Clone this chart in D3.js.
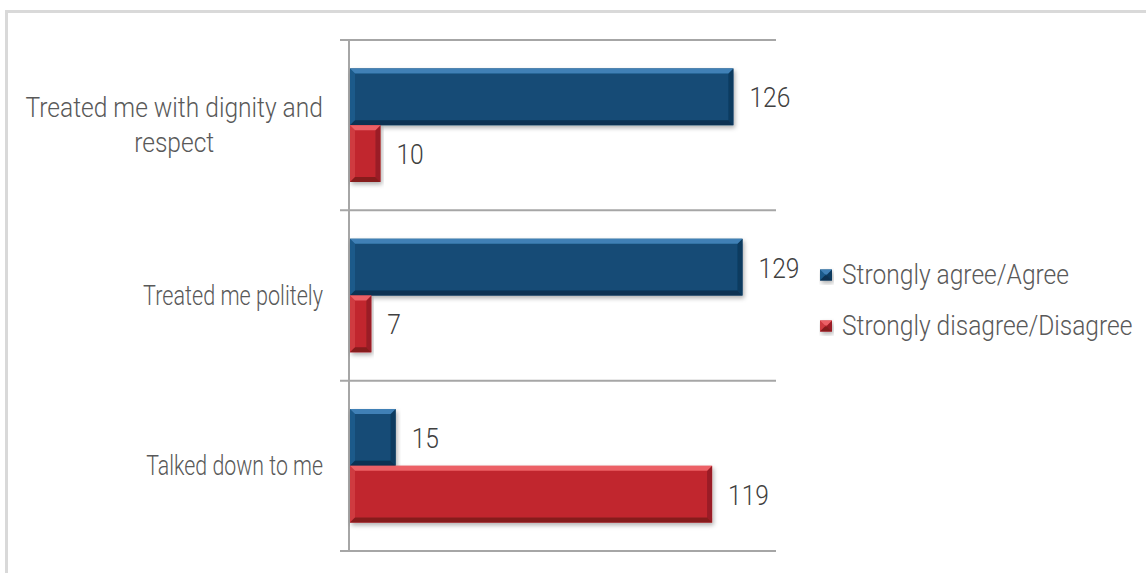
<!DOCTYPE html>
<html>
<head>
<meta charset="utf-8">
<script src="https://cdn.jsdelivr.net/npm/d3@7"></script>
<style>
  html, body { margin: 0; padding: 0; background: #fff; }
  svg { display: block; }
  text { font-family: Roboto, "Liberation Sans", sans-serif; font-weight: 300; fill: #595959; }
</style>
</head>
<body>
<svg id="chart" width="1146" height="573"></svg>
<script>
// Survey responses per statement
const categories = ["Treated me with dignity and respect", "Treated me politely", "Talked down to me"];
const categoryLines = [["Treated me with dignity and", "respect"], ["Treated me politely"], ["Talked down to me"]];
const seriesNames = ["Strongly agree/Agree", "Strongly disagree/Disagree"];
const agreeValues = [126, 129, 15];
const disagreeValues = [10, 7, 119];
const axisMax = 140;

const seriesValues = [agreeValues, disagreeValues];
const palette = [
  { face: "#134b76", light: "#3f80b6", side: "#1d5a8a", dark: "#0b3252", rdark: "#0e3a5e" },
  { face: "#c1272f", light: "#ec6166", side: "#cf3a41", dark: "#861a1f", rdark: "#9a1f25" }
];

const svg = d3.select("#chart");
const FS = 27, SX = 0.91;
// horizontal condensing of each category label
const labelScaleX = [0.91, 0.80, 0.79];

// Outer frame
svg.append("path")
  .attr("d", "M6.5,1146 L6.5,11.5 L1146,11.5")
  .attr("fill", "none").attr("stroke", "#d9d9d9").attr("stroke-width", 3);

// Drop shadow for the bars
const defs = svg.append("defs");
const f = defs.append("filter").attr("id", "shadow").attr("x", "-5%").attr("y", "-20%").attr("width", "115%").attr("height", "160%");
f.append("feDropShadow").attr("dx", 1.5).attr("dy", 2.5).attr("stdDeviation", 2).attr("flood-color", "#000").attr("flood-opacity", 0.3);

const x = d3.scaleLinear().domain([0, axisMax]).range([350, 776]);
const y = d3.scaleBand().domain(categories).range([40, 551]).paddingInner(0).paddingOuter(0);
const ySub = d3.scaleBand().domain(seriesNames).range([0, y.bandwidth()]).paddingInner(0).paddingOuter(0.5);

// Category separators and axis line
const bounds = categories.map(c => y(c)).concat([y.range()[1]]);
const grid = svg.append("g");
grid.selectAll("line.sep").data(bounds).join("line")
  .attr("class", "sep")
  .attr("x1", 340).attr("x2", x(axisMax))
  .attr("y1", d => d).attr("y2", d => d)
  .attr("stroke", "#a6a6a6").attr("stroke-width", 2);
grid.append("line")
  .attr("x1", x(0) - 1).attr("x2", x(0) - 1)
  .attr("y1", y.range()[0]).attr("y2", y.range()[1] + 1)
  .attr("stroke", "#a6a6a6").attr("stroke-width", 2);

function bevelBar(g, x0, y0, w, h, c) {
  const b = Math.min(5, w / 2, h / 2);
  const gg = g.append("g").attr("filter", "url(#shadow)");
  gg.append("rect").attr("x", x0).attr("y", y0).attr("width", w).attr("height", h).attr("fill", c.face);
  const poly = (pts, fill) => gg.append("polygon").attr("points", pts.map(p => p.join(",")).join(" ")).attr("fill", fill);
  poly([[x0, y0], [x0 + b, y0 + b], [x0 + b, y0 + h - b], [x0, y0 + h]], c.side);
  poly([[x0 + w, y0], [x0 + w - b, y0 + b], [x0 + w - b, y0 + h - b], [x0 + w, y0 + h]], c.rdark);
  poly([[x0, y0], [x0 + w, y0], [x0 + w - b, y0 + b], [x0 + b, y0 + b]], c.light);
  poly([[x0, y0 + h], [x0 + w, y0 + h], [x0 + w - b, y0 + h - b], [x0 + b, y0 + h - b]], c.dark);
}

// Bars and value labels
const bars = svg.append("g");
categories.forEach((cat, ci) => {
  seriesNames.forEach((s, si) => {
    const v = seriesValues[si][ci];
    const y0 = y(cat) + ySub(s);
    bevelBar(bars, x(0), y0, x(v) - x(0), ySub.bandwidth(), palette[si]);
    bars.append("text")
      .attr("transform", `translate(${x(v) + 16},${y0 + ySub.bandwidth() / 2 + 1}) scale(${SX},1)`)
      .attr("dy", "0.35em")
      .attr("font-size", FS)
      .style("fill", "#404040")
      .text(v);
  });
});

// Category labels (right-aligned block, lines centred)
const labels = svg.append("g");
categories.forEach((cat, ci) => {
  const lines = categoryLines[ci];
  const lh = 35;
  const sx = labelScaleX[ci];
  const cy = y(cat) + y.bandwidth() / 2;
  const t = labels.append("text")
    .attr("font-size", FS)
    .attr("text-anchor", "middle");
  lines.forEach((ln, li) => {
    t.append("tspan").attr("x", 0).attr("y", (li - (lines.length - 1) / 2) * lh).attr("dy", "0.35em").text(ln);
  });
  const wmax = d3.max(t.selectAll("tspan").nodes(), n => n.getComputedTextLength()) * sx;
  t.attr("transform", `translate(${323 - wmax / 2},${cy}) scale(${sx},1)`);
});

// Legend
const legend = svg.append("g");
const legY = [275, 326];
seriesNames.forEach((s, si) => {
  bevelBar(legend, 820, legY[si] - 5.5, 12, 11, palette[si]);
  legend.append("text")
    .attr("transform", `translate(842,${legY[si]}) scale(${SX},1)`)
    .attr("dy", "0.35em")
    .attr("font-size", FS)
    .text(s);
});
</script>
</body>
</html>
